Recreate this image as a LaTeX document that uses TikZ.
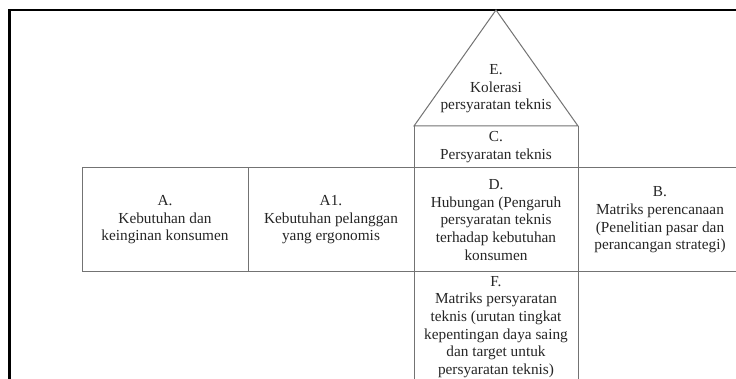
\documentclass[tikz,border=0pt]{standalone}
\usepackage{fontspec}
\setmainfont{Liberation Serif}
\begin{document}
\begin{tikzpicture}[x=1pt,y=-1pt,
  frame/.style={draw=black,line width=2.4pt,line join=miter},
  cell/.style={draw=black!55,line width=1pt},
  lbl/.style={align=center,text=black!85,inner sep=0pt,
    font=\fontsize{15.3}{17.6}\selectfont}]
\useasboundingbox (0,0) rectangle (736,379);
\fill[white] (0,0) rectangle (736,379);
% frame
\draw[frame] (736,10) -- (9.5,10) -- (9.5,381);
% key points
\coordinate (apex) at (496,10);
\coordinate (tl) at (414,126);
\coordinate (tr) at (578,126);
\coordinate (rowL) at (82,168);
\coordinate (rowR) at (736,168);
\coordinate (botL) at (82,272);
\coordinate (botR) at (736,272);
% roof
\draw[cell] (tl) -- (apex) -- (tr) -- cycle;
% grid
\draw[cell] (rowL) -- (rowR);
\draw[cell] (botL) -- (botR);
\draw[cell] (rowL) -- (botL);
\draw[cell] (248,168) -- (248,272);
\draw[cell] (tl) -- (414,381);
\draw[cell] (tr) -- (578,381);
% texts
\node[lbl] (E) at (496,89) {E.\\Kolerasi\\persyaratan teknis};
\node[lbl] (C) at (496,147) {C.\\Persyaratan teknis};
\node[lbl] (A) at (165,220) {A.\\Kebutuhan dan\\keinginan konsumen};
\node[lbl] (A1) at (331,220) {A1.\\Kebutuhan pelanggan\\yang ergonomis};
\node[lbl] (D) at (496,220) {D.\\Hubungan (Pengaruh\\persyaratan teknis\\terhadap kebutuhan\\konsumen};
\node[lbl] (B) at (660,220) {B.\\Matriks perencanaan\\(Penelitian pasar dan\\perancangan strategi)};
\node[lbl] (F) at (496,327) {F.\\Matriks persyaratan\\teknis (urutan tingkat\\kepentingan daya saing\\dan target untuk\\persyaratan teknis)};
\end{tikzpicture}
\end{document}
